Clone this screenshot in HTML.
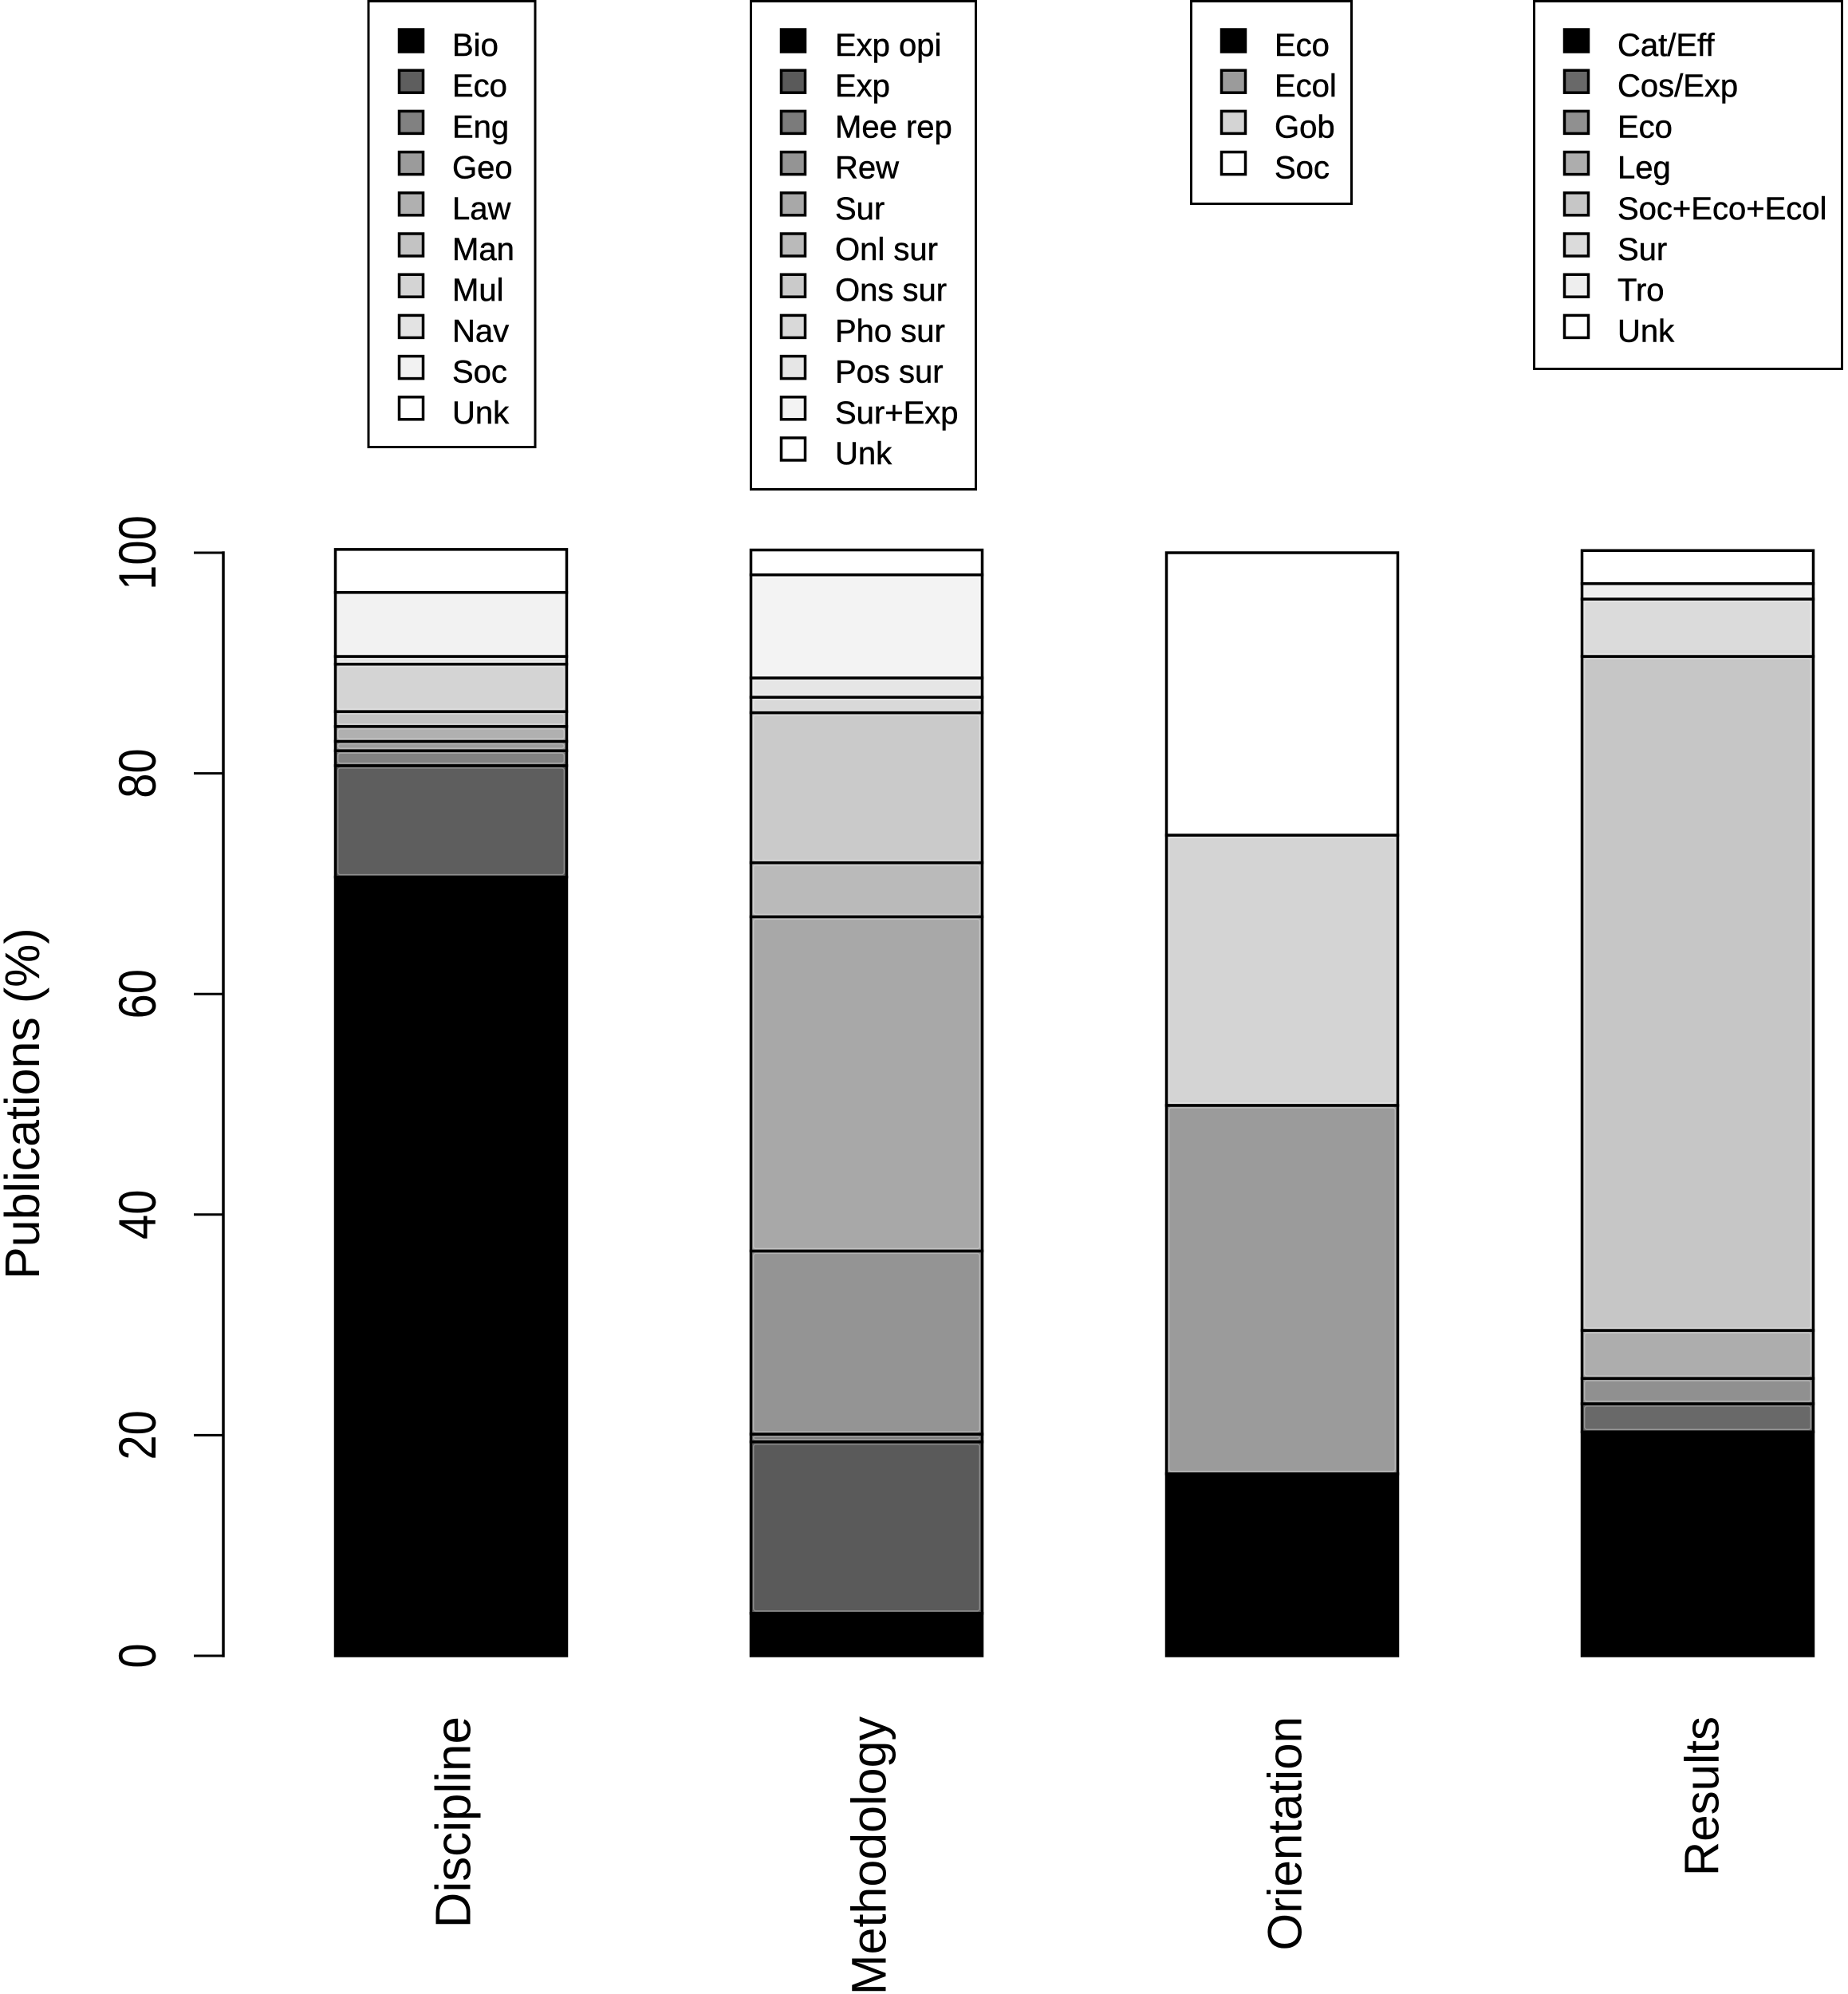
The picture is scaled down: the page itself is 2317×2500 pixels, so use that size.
<!DOCTYPE html>
<html lang="en">
<head>
<meta charset="utf-8">
<title>Publications by category</title>
<style>
html,body{margin:0;padding:0;background:#fff;}
svg{display:block;}
text{font-family:"Liberation Sans",sans-serif;fill:#000;}
</style>
</head>
<body>
<svg id="chart" xmlns="http://www.w3.org/2000/svg" width="2317" height="2500" viewBox="0 0 2317 2500">
  <rect x="0" y="0" width="2317" height="2500" fill="#fff"/>
  <g id="legends">
    <g id="legend-discipline">
      <rect x="462" y="1.5" width="209" height="559" fill="#fff" stroke="#000" stroke-width="3"/>
    </g>
    <g id="legend-methodology">
      <rect x="941.5" y="1.5" width="282" height="612" fill="#fff" stroke="#000" stroke-width="3"/>
    </g>
    <g id="legend-orientation">
      <rect x="1493.5" y="1.5" width="201" height="254" fill="#fff" stroke="#000" stroke-width="3"/>
    </g>
    <g id="legend-results">
      <rect x="1923.5" y="1.5" width="386" height="461" fill="#fff" stroke="#000" stroke-width="3"/>
    </g>
  </g>
  <g id="bars"></g>
  <g id="y-axis"></g>
  <g id="x-axis"></g>
  <text transform="translate(49,1604) rotate(-90)" font-size="61">Publications (%)</text>
</svg>
<script>
// Chart data: percentage of publications per stack segment, read bottom to top.
const categories = ["Discipline", "Methodology", "Orientation", "Results"];
const disciplineLabels = ["Bio", "Eco", "Eng", "Geo", "Law", "Man", "Mul", "Nav", "Soc", "Unk"];
const disciplineValues = [70.6, 10.1, 1.35, 0.85, 1.35, 1.35, 4.3, 0.7, 5.8, 3.9];
const methodologyLabels = ["Exp opi", "Exp", "Mee rep", "Rew", "Sur", "Onl sur", "Ons sur", "Pho sur", "Pos sur", "Sur+Exp", "Unk"];
const methodologyValues = [3.85, 15.55, 0.7, 16.6, 30.3, 4.9, 13.6, 1.4, 1.75, 9.35, 2.25];
const orientationLabels = ["Eco", "Ecol", "Gob", "Soc"];
const orientationValues = [16.5, 33.4, 24.5, 25.6];
const resultsLabels = ["Cat/Eff", "Cos/Exp", "Eco", "Leg", "Soc+Eco+Ecol", "Sur", "Tro", "Unk"];
const resultsValues = [20.3, 2.55, 2.3, 4.35, 61.1, 5.2, 1.4, 3.0];
const yTickValues = [0, 20, 40, 60, 80, 100];
const yTickLabels = ["0", "20", "40", "60", "80", "100"];

const SVG_NS = "http://www.w3.org/2000/svg";
const Y_ZERO = 2076;
const Y_PER_UNIT = 13.83;
const BAR_WIDTH = 290;
const FIRST_BAR_CENTER = 565.5;
const BAR_STEP = 521;
const CATEGORY_FONT_SIZES = {Discipline: 62, Methodology: 61, Orientation: 60, Results: 60};

function yScale(value) {
  return Y_ZERO - value * Y_PER_UNIT;
}
function xScale(index) {
  return FIRST_BAR_CENTER + index * BAR_STEP;
}
function greyFor(index, count) {
  const level = Math.round(255 * Math.pow(index / (count - 1), 1 / 2.2));
  return "rgb(" + level + "," + level + "," + level + ")";
}
function slug(label) {
  return label.toLowerCase().replace(/[^a-z0-9]+/g, "-").replace(/-$/, "");
}

function drawStack(parent, categoryIndex, labels, values) {
  const group = document.createElementNS(SVG_NS, "g");
  
  
  let running = 0;
  values.forEach(function (value, i) {
    const top = yScale(running + value);
    const bottom = yScale(running);
    const left = xScale(categoryIndex) - BAR_WIDTH / 2;
    const rect = document.createElementNS(SVG_NS, "rect");
    rect.setAttribute("x", left);
    rect.setAttribute("y", top);
    rect.setAttribute("width", BAR_WIDTH);
    rect.setAttribute("height", bottom - top);
    rect.setAttribute("fill", greyFor(i, values.length));
    rect.setAttribute("stroke", "#000");
    rect.setAttribute("stroke-width", "3.5");
    
    
    group.appendChild(rect);
    if (i > 0 && i < values.length - 1 && bottom - top > 8) {
      const halo = document.createElementNS(SVG_NS, "rect");
      halo.setAttribute("x", left + 3.2);
      halo.setAttribute("y", top + 3);
      halo.setAttribute("width", BAR_WIDTH - 6.4);
      halo.setAttribute("height", bottom - top - 6);
      halo.setAttribute("rx", 3);
      halo.setAttribute("fill", "none");
      halo.setAttribute("stroke", "#fff");
      halo.setAttribute("stroke-opacity", "0.3");
      halo.setAttribute("stroke-width", "1.4");
      
      
      group.appendChild(halo);
    }
    running += value;
  });
  parent.appendChild(group);
}

function drawLegend(groupId, labels, swatchX, textX) {
  const parent = document.getElementById(groupId);
  labels.forEach(function (label, i) {
    const centerY = 51 + i * 51.2;
    const swatch = document.createElementNS(SVG_NS, "rect");
    swatch.setAttribute("x", swatchX + 1.5);
    swatch.setAttribute("y", centerY - 14);
    swatch.setAttribute("width", 30);
    swatch.setAttribute("height", 28);
    swatch.setAttribute("fill", greyFor(i, labels.length));
    swatch.setAttribute("stroke", "#000");
    swatch.setAttribute("stroke-width", "3.5");
    
    
    parent.appendChild(swatch);
    const text = document.createElementNS(SVG_NS, "text");
    text.setAttribute("x", textX);
    text.setAttribute("y", centerY + 19);
    text.setAttribute("font-size", "40");
    text.setAttribute("stroke", "#000");
    text.setAttribute("stroke-width", "0.5");
    
    
    text.textContent = label;
    parent.appendChild(text);
  });
}

function drawYAxis() {
  const parent = document.getElementById("y-axis");
  const line = document.createElementNS(SVG_NS, "line");
  line.setAttribute("x1", 280);
  line.setAttribute("x2", 280);
  line.setAttribute("y1", yScale(yTickValues[0]));
  line.setAttribute("y2", yScale(yTickValues[yTickValues.length - 1]));
  line.setAttribute("stroke", "#000");
  line.setAttribute("stroke-width", "3.5");
  line.setAttribute("stroke-linecap", "square");
  
  
  parent.appendChild(line);
  yTickValues.forEach(function (value, i) {
    const y = yScale(value);
    const tick = document.createElementNS(SVG_NS, "line");
    tick.setAttribute("x1", 243);
    tick.setAttribute("x2", 280);
    tick.setAttribute("y1", y);
    tick.setAttribute("y2", y);
    tick.setAttribute("stroke", "#000");
    tick.setAttribute("stroke-width", "3");
    
    
    parent.appendChild(tick);
    const label = document.createElementNS(SVG_NS, "text");
    label.setAttribute("transform", "translate(195," + y + ") rotate(-90) scale(1,1.17)");
    label.setAttribute("text-anchor", "middle");
    label.setAttribute("font-size", "56");
    
    
    label.textContent = yTickLabels[i];
    parent.appendChild(label);
  });
}

function drawXAxis() {
  const parent = document.getElementById("x-axis");
  categories.forEach(function (category, i) {
    const label = document.createElementNS(SVG_NS, "text");
    label.setAttribute("transform", "translate(" + (xScale(i) + 24 + (i === 3 ? 2 : 0)) + ",2152) rotate(-90)");
    label.setAttribute("text-anchor", "end");
    label.setAttribute("font-size", CATEGORY_FONT_SIZES[category]);
    
    
    label.textContent = category;
    parent.appendChild(label);
  });
}

const barsLayer = document.getElementById("bars");
drawStack(barsLayer, 0, disciplineLabels, disciplineValues);
drawStack(barsLayer, 1, methodologyLabels, methodologyValues);
drawStack(barsLayer, 2, orientationLabels, orientationValues);
drawStack(barsLayer, 3, resultsLabels, resultsValues);
drawLegend("legend-discipline", disciplineLabels, 499, 567);
drawLegend("legend-methodology", methodologyLabels, 978, 1047);
drawLegend("legend-orientation", orientationLabels, 1530, 1598);
drawLegend("legend-results", resultsLabels, 1960, 2028);
drawYAxis();
drawXAxis();
</script>
</body>
</html>
